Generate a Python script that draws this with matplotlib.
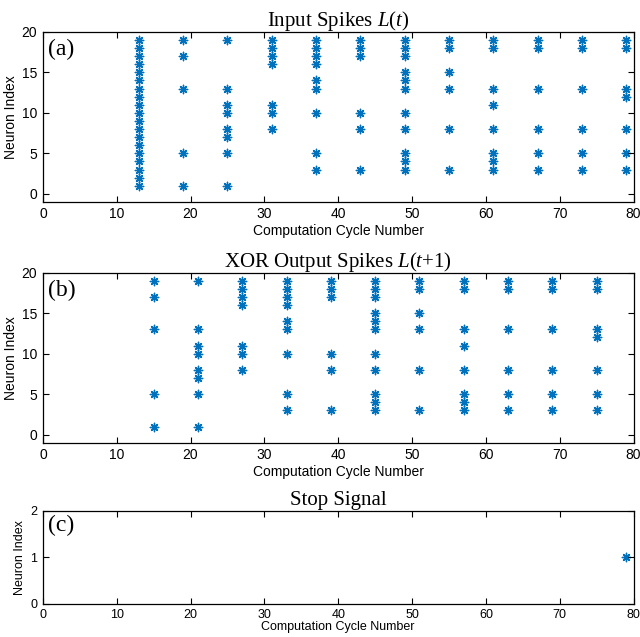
import matplotlib
matplotlib.use('Agg')
import matplotlib.pyplot as plt

plt.rcParams['mathtext.fontset'] = 'custom'
plt.rcParams['mathtext.rm'] = 'Liberation Serif'
plt.rcParams['mathtext.it'] = 'Liberation Serif:italic'

# 输入脉冲 L(t): 每个计算周期里放电的神经元编号
in_cycles = [13, 19, 25, 31, 37, 43, 49, 55, 61, 67, 73, 79]
in_neurons = [
    list(range(1, 20)),
    [19, 17, 13, 5, 1],
    [19, 13, 11, 10, 8, 7, 5, 1],
    [19, 18, 17, 16, 11, 10, 8],
    [19, 18, 17, 16, 14, 13, 10, 5, 3],
    [19, 18, 17, 10, 8, 3],
    [19, 18, 17, 15, 14, 13, 10, 8, 5, 4, 3],
    [19, 18, 15, 13, 8, 3],
    [19, 18, 13, 11, 8, 5, 4, 3],
    [19, 18, 13, 8, 5, 3],
    [19, 18, 13, 8, 5, 3],
    [19, 18, 13, 12, 8, 5, 3],
]

# XOR 输出脉冲 L(t+1)
out_cycles = [15, 21, 27, 33, 39, 45, 51, 57, 63, 69, 75]
out_neurons = [
    [19, 17, 13, 5, 1],
    [19, 13, 11, 10, 8, 7, 5, 1],
    [19, 18, 17, 16, 11, 10, 8],
    [19, 18, 17, 16, 14, 13, 10, 5, 3],
    [19, 18, 17, 10, 8, 3],
    [19, 18, 17, 15, 14, 13, 10, 8, 5, 4, 3],
    [19, 18, 15, 13, 8, 3],
    [19, 18, 13, 11, 8, 5, 4, 3],
    [19, 18, 13, 8, 5, 3],
    [19, 18, 13, 8, 5, 3],
    [19, 18, 13, 12, 8, 5, 3],
]

# 停止信号
stop_cycles = [79]
stop_neurons = [1]

blue = '#0072BD'
sans = 'Liberation Sans'
serif = 'Liberation Serif'


def flatten(cycles, neurons):
    xs, ys = [], []
    for c, ns in zip(cycles, neurons):
        for n in ns:
            xs.append(c)
            ys.append(n)
    return xs, ys


def style(ax, yticks, ylim, title, tag, fs=10, lpad=2):
    ax.set_xlim(0, 80)
    ax.set_ylim(*ylim)
    ax.set_xticks(range(0, 81, 10))
    ax.set_yticks(yticks)
    ax.tick_params(direction='in', top=True, right=True, length=4,
                   width=0.8, labelsize=fs, pad=4)
    for lab in ax.get_xticklabels() + ax.get_yticklabels():
        lab.set_family(sans)
    for s in ax.spines.values():
        s.set_linewidth(0.9)
    ax.set_xlabel('Computation Cycle Number', family=sans, fontsize=fs,
                  labelpad=lpad)
    ax.set_ylabel('Neuron Index', family=sans, fontsize=fs, labelpad=3)
    ax.set_title(title, family=serif, fontsize=15, pad=4)
    ax.text(0.008, 0.96, tag, transform=ax.transAxes, family=serif,
            fontsize=17, ha='left', va='top')


fig = plt.figure(figsize=(6.4, 6.37), dpi=100)
ax1 = fig.add_axes([0.067, 0.683, 0.923, 0.267])
ax2 = fig.add_axes([0.067, 0.305, 0.923, 0.267])
ax3 = fig.add_axes([0.067, 0.052, 0.923, 0.146])

mk = dict(marker=(8, 2, 0), s=36, color=blue, linewidths=1.0)

x, y = flatten(in_cycles, in_neurons)
ax1.scatter(x, y, **mk)
style(ax1, [0, 5, 10, 15, 20], (-1, 20), r'Input Spikes $L$($t$)', '(a)')

x, y = flatten(out_cycles, out_neurons)
ax2.scatter(x, y, **mk)
style(ax2, [0, 5, 10, 15, 20], (-1, 20), r'XOR Output Spikes $L$($t$+1)', '(b)')

ax3.scatter(stop_cycles, stop_neurons, clip_on=False, **mk)
style(ax3, [0, 1, 2], (0, 2), 'Stop Signal', '(c)', fs=9, lpad=0)

plt.savefig('out.png', dpi=100)
